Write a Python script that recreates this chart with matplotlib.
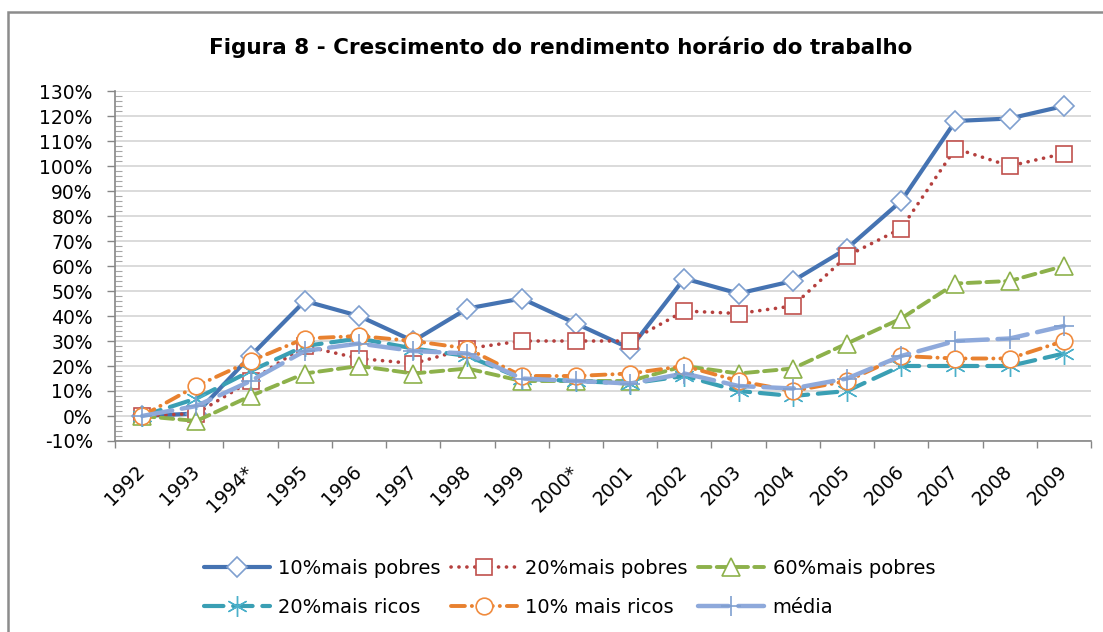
import numpy as np
import matplotlib
matplotlib.use("Agg")
import matplotlib.pyplot as plt
from matplotlib.patches import Rectangle
from matplotlib.ticker import MultipleLocator, FixedLocator, NullFormatter

# ----------------
# DATA (% growth since 1992)
# ----------------
years = ["1992", "1993", "1994*", "1995", "1996", "1997", "1998", "1999", "2000*",
         "2001", "2002", "2003", "2004", "2005", "2006", "2007", "2008", "2009"]

pobres10 = [0, 1, 24, 46, 40, 30, 43, 47, 37, 27, 55, 49, 54, 67, 86, 118, 119, 124]
pobres20 = [0, 1, 14, 28, 23, 21, 27, 30, 30, 30, 42, 41, 44, 64, 75, 107, 100, 105]
pobres60 = [0, -2, 8, 17, 20, 17, 19, 14, 14, 14, 20, 17, 19, 29, 39, 53, 54, 60]
ricos20 = [0, 7, 18, 28, 31, 27, 24, 15, 14, 13, 16, 10, 8, 10, 20, 20, 20, 25]
ricos10 = [0, 12, 22, 31, 32, 30, 27, 16, 16, 17, 20, 14, 10, 14, 24, 23, 23, 30]
media = [0, 4, 14, 26, 29, 26, 25, 15, 14, 13, 17, 12, 11, 15, 24, 30, 31, 36]

labels = ["10%mais pobres", "20%mais pobres", "60%mais pobres",
          "20%mais ricos", "10% mais ricos", "média"]

# ----------------
# STYLE
# ----------------
plt.rcParams["font.family"] = ["DejaVu Sans"]
plt.rcParams["lines.scale_dashes"] = False

W, H = 1103, 632
fig = plt.figure(figsize=(W / 100, H / 100), dpi=100)
ax = fig.add_axes([115 / W, 1 - 441 / H, (1091 - 115) / W, (441 - 91) / H])

x = np.arange(len(years))

styles = [
    dict(data=pobres10, color="#4573B2", lw=3.0, ls="-", marker="D", ms=10,
         mec="#7F9FCF", mew=1.2),
    dict(data=pobres20, color="#B5403E", lw=2.6, ls=(0, (0.1, 5.6)), marker="s", ms=12,
         mec="#C0504D", mew=1.2),
    dict(data=pobres60, color="#8DB14B", lw=2.8, ls=(0, (9, 4.5)), marker="^", ms=13,
         mec="#8DB14B", mew=1.2),
    dict(data=ricos20, color="#3A9FB4", lw=3.0, ls=(0, (14, 7)), marker=(6, 2, 0), ms=15,
         mec="#4BB0CA", mew=1.0),
    dict(data=ricos10, color="#E8812F", lw=2.8, ls=(0, (10, 5, 0.1, 5)), marker="o", ms=12,
         mec="#F08B3E", mew=1.2),
    dict(data=media, color="#8EA9DB", lw=3.2, ls=(0, (22, 7)), marker="+", ms=15,
         mec="#7F9FD0", mew=1.2),
]

handles = []
for st, lab in zip(styles, labels):
    h, = ax.plot(x, st["data"], color=st["color"], lw=st["lw"], linestyle=st["ls"],
                 dash_capstyle="round", solid_capstyle="round",
                 marker=st["marker"], markersize=st["ms"], markerfacecolor="white",
                 markeredgecolor=st["mec"], markeredgewidth=st["mew"], label=lab)
    handles.append(h)

# ----------------
# AXES
# ----------------
ax.set_xlim(-0.5, len(years) - 0.5)
ax.set_ylim(-10, 130)

ax.yaxis.set_major_locator(MultipleLocator(10))
ax.yaxis.set_minor_locator(MultipleLocator(2))
ax.set_yticklabels([f"{int(v)}%" for v in ax.get_yticks()])
ax.tick_params(axis="y", which="major", direction="out", length=6, width=1,
               color="#868686", labelsize=13.5, pad=10)
ax.tick_params(axis="y", which="minor", direction="in", length=5, width=0.8,
               color="#A6A6A6")

ax.xaxis.set_major_locator(FixedLocator(np.arange(-0.5, len(years), 1)))
ax.xaxis.set_major_formatter(NullFormatter())
ax.xaxis.set_minor_locator(FixedLocator(x))
ax.set_xticklabels(years, minor=True, rotation=45, ha="right", va="center",
                   rotation_mode="anchor")
ax.tick_params(axis="x", which="major", direction="out", length=5, width=1,
               color="#868686")
ax.tick_params(axis="x", which="minor", length=0, labelsize=13.5, pad=20)

ax.grid(axis="y", which="major", color="#D4D4D4", lw=1.2)
ax.set_axisbelow(True)
for s in ["top", "right"]:
    ax.spines[s].set_visible(False)
for s in ["left", "bottom"]:
    ax.spines[s].set_color("#868686")
    ax.spines[s].set_linewidth(1.2)

# ----------------
# TITLE, LEGEND, FRAME
# ----------------
fig.text(561 / W, 1 - 47 / H, "Figura 8 - Crescimento do rendimento horário do trabalho",
         ha="center", va="center", fontsize=15.5, fontweight="bold")

order = [0, 3, 1, 4, 2, 5]
fig.legend([handles[i] for i in order], [labels[i] for i in order], ncol=3,
           loc="center left", bbox_to_anchor=(186 / W, 1 - 588 / H),
           frameon=False, fontsize=14, handlelength=3.4, handletextpad=0.45,
           columnspacing=0.5, labelspacing=1.0, numpoints=1)

fig.patches.append(Rectangle((8 / W, -0.1), 1.2, (H - 12) / H + 0.1,
                             transform=fig.transFigure, fill=False,
                             edgecolor="#8C8C8C", lw=1.8))

fig.savefig("out.png", dpi=100)
